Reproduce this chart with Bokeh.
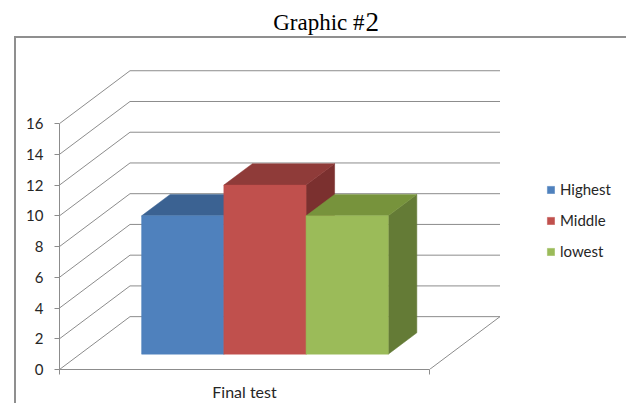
from bokeh.plotting import figure
from bokeh.models import Range1d, FixedTicker, Legend, LegendItem
from bokeh.core.properties import value
from bokeh.embed import file_html
from bokeh.resources import INLINE

# ---- data ----
title_main = "Graphic #"
title_num = "2"
categories = ["Final test"]
series = ["Highest", "Middle", "lowest"]
values = [9, 11, 9]
y_ticks = [0, 2, 4, 6, 8, 10, 12, 14, 16]

# ---- style ----
front_colors = ["#4F81BD", "#C0504D", "#9BBB59"]
top_colors = ["#3B6292", "#8F3B39", "#77933C"]
side_colors = ["#30507A", "#7B302F", "#647B36"]
GRID = "#8C8C8C"
BOX = "#8F8F8F"
FONT = "Lato"

# ---- layout / pseudo-3D geometry ----
PX_PER_UNIT = 15.41
FRAME_W, FRAME_H = 567, 370
W = 370.0                    # width of the category floor (px)
DEPTH_DX = 70.5              # depth offset in x (px)
DEPTH_DY = 53 / PX_PER_UNIT  # depth offset in y (value units)
D0, D1 = 0.29, 0.695         # bar front/back depth fractions
GAP = 0.75                   # gap each side, in bar widths
Y_MAX = max(y_ticks)


def proj(u, v, d):
    return u + d * DEPTH_DX, v + d * DEPTH_DY


p = figure(width=626, height=403, output_backend="svg", toolbar_location=None,
           title=None,
           x_range=Range1d(0, FRAME_W), y_range=Range1d(0, FRAME_H / PX_PER_UNIT),
           min_border_left=59, min_border_right=0, min_border_top=0, min_border_bottom=33)
p.outline_line_color = None
p.xgrid.visible = False
p.ygrid.visible = False
p.background_fill_alpha = 0
p.border_fill_alpha = 0
# chart-area box (top and left edges, running off the page like the original)
p.styles = {
    "background": (f"linear-gradient({BOX},{BOX}) 14px 36px / 612px 2px no-repeat, "
                   f"linear-gradient({BOX},{BOX}) 14px 36px / 2px 367px no-repeat, #ffffff")
}

# ---- axes ----
ya = p.yaxis[0]
ya.ticker = FixedTicker(ticks=y_ticks)
ya.bounds = (0, Y_MAX)
ya.major_tick_in = 0
ya.major_tick_out = 5
ya.minor_tick_in = 0
ya.minor_tick_out = 0
ya.major_label_standoff = 11
ya.axis_line_color = GRID
ya.major_tick_line_color = GRID
ya.major_label_text_font = FONT
ya.major_label_text_font_size = "15px"
ya.major_label_text_color = "#262626"

xa = p.xaxis[0]
xa.ticker = FixedTicker(ticks=[W / 2], minor_ticks=[0, W])
xa.major_label_overrides = {W / 2: categories[0]}
xa.bounds = (0, W)
xa.axis_label = None
xa.axis_label_standoff = 0
xa.major_tick_in = 0
xa.major_tick_out = 0
xa.minor_tick_in = 0
xa.minor_tick_out = 5
xa.major_label_standoff = 7
xa.axis_line_color = GRID
xa.minor_tick_line_color = GRID
xa.major_label_text_font = FONT
xa.major_label_text_font_size = "16px"
xa.major_label_text_color = "#262626"

# ---- walls / floor gridlines ----
gx, gy = [], []
for t in y_ticks:
    x0, y0 = proj(0, t, 0)
    x1, y1 = proj(0, t, 1)
    x2, y2 = proj(W, t, 1)
    gx.append([x0, x1, x2])
    gy.append([y0, y1, y2])
fx0, fy0 = proj(W, 0, 0)
fx1, fy1 = proj(W, 0, 1)
gx.append([fx0, fx1])
gy.append([fy0, fy1])
p.multi_line(gx, gy, line_color=GRID, line_width=1)

# ---- bars ----
n = len(series)
bw = W / (n + 2 * GAP)
items = []
for i, (name, val) in enumerate(zip(series, values)):
    u0 = bw * (GAP + i)
    u1 = u0 + bw
    side = [proj(u1, 0, D0), proj(u1, val, D0), proj(u1, val, D1), proj(u1, 0, D1)]
    p.patch([q[0] for q in side], [q[1] for q in side], fill_color=side_colors[i],
            line_color=side_colors[i], line_width=0.5)
    top = [proj(u0, val, D0), proj(u1, val, D0), proj(u1, val, D1), proj(u0, val, D1)]
    p.patch([q[0] for q in top], [q[1] for q in top], fill_color=top_colors[i],
            line_color=top_colors[i], line_width=0.5)
    l, b = proj(u0, 0, D0)
    r, t = proj(u1, val, D0)
    fr = p.quad(left=[l], right=[r], bottom=[b], top=[t], fill_color=front_colors[i],
                line_color=front_colors[i], line_width=0.5)
    items.append(LegendItem(label=name, renderers=[fr]))

legend = Legend(items=items, location=(487, 109), orientation="vertical",
                glyph_width=9, glyph_height=9, label_height=9, label_standoff=5,
                spacing=13, padding=0, margin=0, border_line_color=None,
                background_fill_alpha=0, label_text_font=FONT,
                label_text_font_size="15px", label_text_color="#262626")
p.add_layout(legend)

# ---- title (mixed sizes, as in the original) ----
title_y = (FRAME_H - 21.8) / PX_PER_UNIT
p.text(x=[305], y=[title_y], text=[title_main], text_align="right",
       text_baseline="alphabetic", text_font=value("Liberation Serif"),
       text_font_size="23px", text_color="black")
p.text(x=[306], y=[title_y], text=[title_num], text_align="left",
       text_baseline="alphabetic", text_font=value("Liberation Serif"),
       text_font_size="27px", text_color="black")

open("out.html", "w").write(file_html(p, INLINE))
